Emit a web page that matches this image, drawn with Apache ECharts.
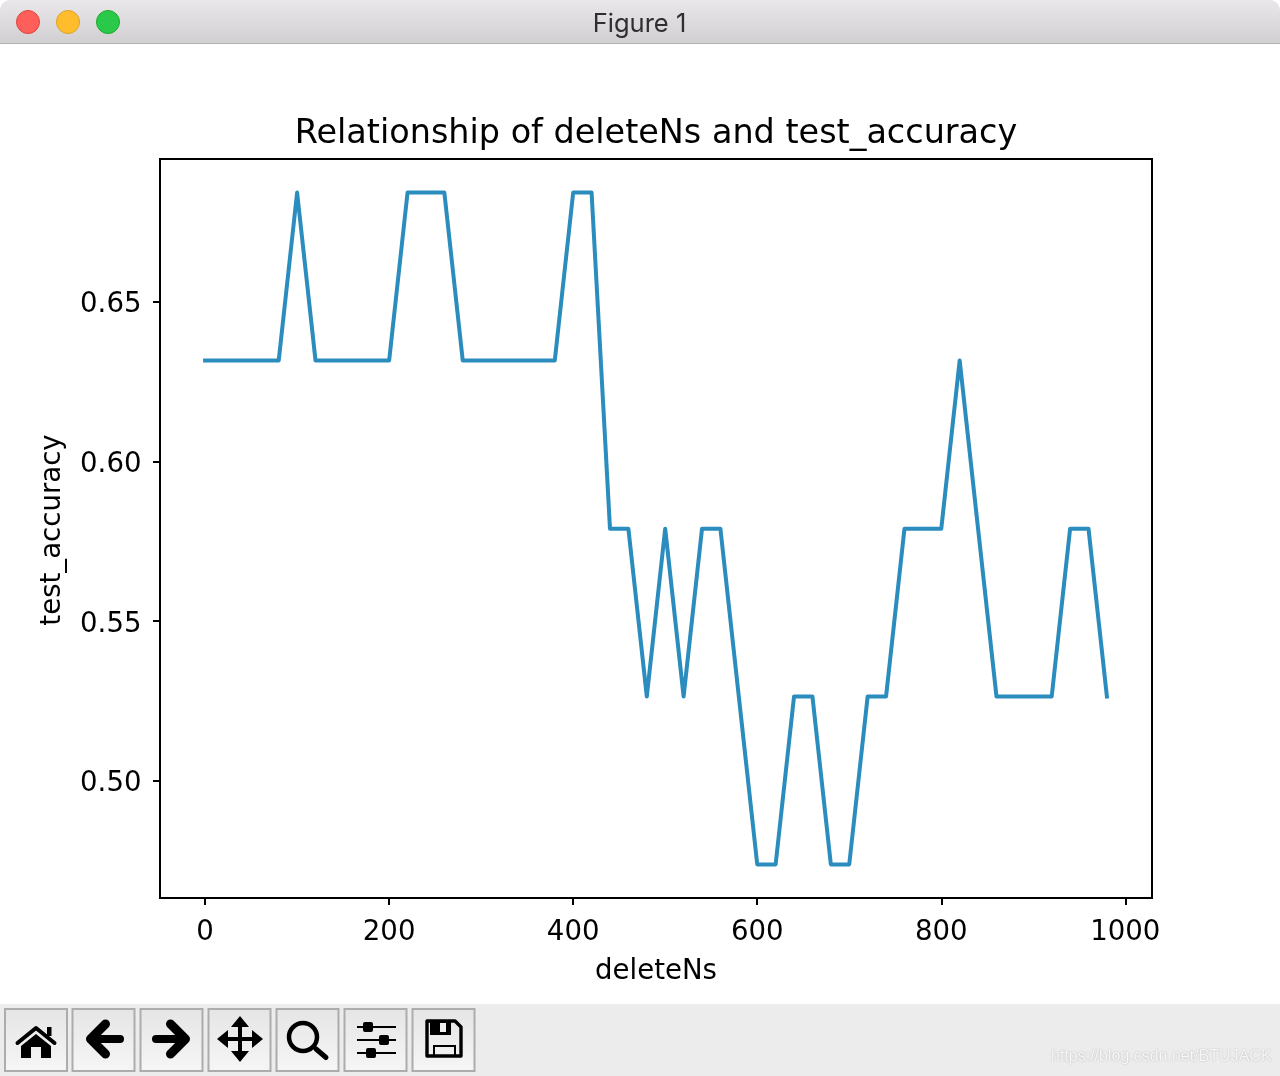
<!DOCTYPE html>
<html>
<head>
<meta charset="utf-8">
<title>Figure 1</title>
<script src="https://cdn.jsdelivr.net/npm/echarts@6/dist/echarts.min.js"></script>
<style>html,body{margin:0;padding:0;background:#fff}#c{width:1280px;height:1076px}</style>
</head>
<body>
<div id="c"></div>
<script>
const deleteNs = [0,20,40,60,80,100,120,140,160,180,200,220,240,260,280,300,320,340,360,380,400,420,440,460,480,500,520,540,560,580,600,620,640,660,680,700,720,740,760,780,800,820,840,860,880,900,920,940,960,980];
const testAccuracy = [0.6316,0.6316,0.6316,0.6316,0.6316,0.6842,0.6316,0.6316,0.6316,0.6316,0.6316,0.6842,0.6842,0.6842,0.6316,0.6316,0.6316,0.6316,0.6316,0.6316,0.6842,0.6842,0.5789,0.5789,0.5263,0.5789,0.5263,0.5789,0.5789,0.5263,0.4737,0.4737,0.5263,0.5263,0.4737,0.4737,0.5263,0.5263,0.5789,0.5789,0.5789,0.6316,0.5789,0.5263,0.5263,0.5263,0.5263,0.5789,0.5789,0.5263];
const xTicks = [0,200,400,600,800,1000];
const yTicks = [0.50,0.55,0.60,0.65];
const chartTitle = 'Relationship of deleteNs and test_accuracy';
const xName = 'deleteNs';
const yName = 'test_accuracy';
const windowTitle = 'Figure 1';
const watermark = 'https://blog.csdn.net/BTUJACK';

const FONT = '"DejaVu Sans"';
const vGrad = (a,b) => new echarts.graphic.LinearGradient(0,0,0,1,[{offset:0,color:a},{offset:1,color:b}]);
const ink = {fill:'none',stroke:'#000',lineCap:'round',lineJoin:'round'};
const poly = (points,w) => ({type:'polyline',shape:{points},style:{...ink,lineWidth:w},silent:true,z:10});
const fillPoly = (points,c) => ({type:'polygon',shape:{points},style:{fill:c||'#000'},silent:true,z:10});
const box = (x,y,w,h,c,z) => ({type:'rect',shape:{x,y,width:w,height:h},style:{fill:c||'#000'},silent:true,z:z||10});

const chrome = [];
// title bar
chrome.push({type:'rect',shape:{x:0,y:0,width:1280,height:43,r:[10,10,0,0]},style:{fill:vGrad('#e9e7e9','#d1cfd1')},silent:true,z:1});
chrome.push(box(0,43,1280,1,'#b1b0b1',1));
[[28,'#ff5f5b','#e0443e'],[68,'#ffbd2e','#dea123'],[108,'#2bc94a','#1aab29']].forEach(([x,f,s])=>{
  chrome.push({type:'circle',shape:{cx:x,cy:22,r:11.5},style:{fill:f,stroke:s,lineWidth:1},silent:true,z:10});
});
chrome.push({type:'text',x:639.5,y:24,style:{text:windowTitle,font:'25.5px Inter, Roboto',fill:'#302e30',align:'center',verticalAlign:'middle'},silent:true,z:10});
// toolbar
chrome.push(box(0,1004,1280,72,'#ececec',1));
[5,72.5,140.5,208.5,276.5,344.5,412.5].forEach(x=>{
  chrome.push({type:'rect',shape:{x,y:1009,width:62,height:62},style:{fill:vGrad('#e5e5e5','#f6f6f6'),stroke:'#acacac',lineWidth:2},silent:true,z:5});
});
// home
chrome.push(poly([[17.5,1043],[36,1028],[54.5,1043]],4));
chrome.push(box(47,1027,4.5,9));
chrome.push(fillPoly([[36,1034],[51,1046],[51,1058],[41,1058],[41,1047],[31,1047],[31,1058],[21,1058],[21,1046]]));
// back
chrome.push(poly([[105.5,1024],[90.5,1039],[105.5,1054]],9));
chrome.push(poly([[92,1039],[120,1039]],8));
// forward
chrome.push(poly([[170.5,1024],[185.5,1039],[170.5,1054]],9));
chrome.push(poly([[156,1039],[184,1039]],8));
// move
chrome.push(box(238,1022,4,34));chrome.push(box(223,1037,34,4));
chrome.push(fillPoly([[240,1016],[249,1027],[231,1027]]));
chrome.push(fillPoly([[240,1062],[249,1051],[231,1051]]));
chrome.push(fillPoly([[217,1039],[228,1030],[228,1048]]));
chrome.push(fillPoly([[263,1039],[252,1030],[252,1048]]));
// zoom
chrome.push({type:'circle',shape:{cx:303,cy:1037,r:14},style:{fill:'none',stroke:'#000',lineWidth:4.5},silent:true,z:10});
chrome.push(poly([[316,1049],[326,1057.5]],5));
// sliders
[1027,1040,1053].forEach(y=>chrome.push(box(357,y-1,39,2)));
chrome.push({type:'rect',shape:{x:363,y:1022,width:10,height:10,r:2},style:{fill:'#000'},silent:true,z:10});
chrome.push({type:'rect',shape:{x:379,y:1035,width:10,height:10,r:2},style:{fill:'#000'},silent:true,z:10});
chrome.push({type:'rect',shape:{x:366,y:1048,width:10,height:10,r:2},style:{fill:'#000'},silent:true,z:10});
// save
chrome.push({type:'polygon',shape:{points:[[427,1021],[455,1021],[461,1027],[461,1056],[427,1056]]},style:{fill:'none',stroke:'#000',lineWidth:3.4,lineJoin:'round'},silent:true,z:10});
chrome.push(box(430,1021,21,14));
chrome.push(box(440,1023,6,9,'#f0f0f0'));
chrome.push(box(433,1045,23,2));chrome.push(box(433,1045,2,11));chrome.push(box(454,1045,2,11));
// watermark
chrome.push({type:'text',x:1051,y:1057,style:{text:watermark,font:'16px "Liberation Sans"',fill:'#f7f7f7',textShadowColor:'#a8a8a8',textShadowBlur:1.5,textShadowOffsetX:0,textShadowOffsetY:0,align:'left',verticalAlign:'middle'},silent:true,z:10});

const axisText = {color:'#000',fontFamily:FONT,fontSize:27.6};
const chart = echarts.init(document.getElementById('c'),null,{renderer:'canvas',width:1280,height:1076});
chart.setOption({
  animation:false,
  backgroundColor:'#fff',
  title:{text:chartTitle,left:651,top:129,textAlign:'center',textVerticalAlign:'middle',textStyle:{color:'#000',fontFamily:FONT,fontSize:33.45,fontWeight:'normal'}},
  grid:{left:160,top:159,width:992,height:739,show:true,borderColor:'#000',borderWidth:2,backgroundColor:'#fff'},
  xAxis:{type:'value',min:-49,max:1029,splitLine:{show:false},
    axisLine:{show:true,onZero:false,lineStyle:{color:'#000',width:2}},
    axisTick:{show:true,length:7,lineStyle:{color:'#000',width:2},customValues:xTicks},
    axisLabel:{...axisText,margin:21,customValues:xTicks,hideOverlap:false,showMinLabel:true,showMaxLabel:true,formatter:v=>String(v)},
    name:xName,nameLocation:'middle',nameGap:60,nameTextStyle:axisText},
  yAxis:{type:'value',min:0.46317,max:0.69473,splitLine:{show:false},
    axisLine:{show:true,onZero:false,lineStyle:{color:'#000',width:2}},
    axisTick:{show:true,length:7,lineStyle:{color:'#000',width:2},customValues:yTicks},
    axisLabel:{...axisText,margin:18.5,verticalAlign:'top',lineHeight:7,customValues:yTicks,formatter:v=>v.toFixed(2)},
    name:yName,nameLocation:'middle',nameGap:93,nameTextStyle:{...axisText,padding:[0,3,0,0]}},
  series:[{type:'line',data:deleteNs.map((x,i)=>[x,testAccuracy[i]]),showSymbol:false,symbol:'none',smooth:false,
    lineStyle:{color:'#2b8cbe',width:4,join:'round',cap:'square'},clip:false}],
  graphic:chrome
});
</script>
</body>
</html>
